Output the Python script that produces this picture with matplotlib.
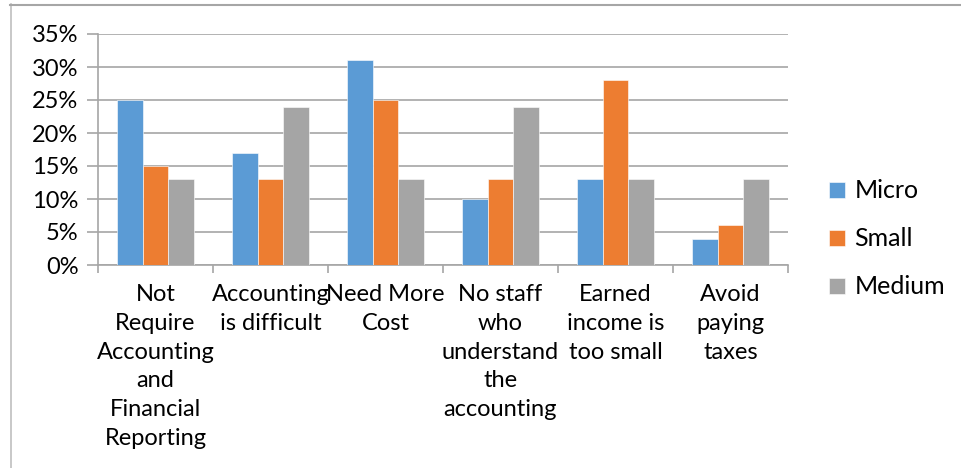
import matplotlib
matplotlib.use("Agg")
import matplotlib.pyplot as plt
import numpy as np
from matplotlib.ticker import FuncFormatter

categories = ["Not\nRequire\nAccounting\nand\nFinancial\nReporting",
              "Accounting\nis difficult",
              "Need More\nCost",
              "No staff\nwho\nunderstand\nthe\naccounting",
              "Earned\nincome is\ntoo small",
              "Avoid\npaying\ntaxes"]
series_names = ["Micro", "Small", "Medium"]
micro = [0.25, 0.17, 0.31, 0.10, 0.13, 0.04]
small = [0.15, 0.13, 0.25, 0.13, 0.28, 0.06]
medium = [0.13, 0.24, 0.13, 0.24, 0.13, 0.13]
yticks = [0, 0.05, 0.10, 0.15, 0.20, 0.25, 0.30, 0.35]

colors = ["#5B9BD5", "#ED7D31", "#A5A5A5"]
grid_c = "#A6A6A6"

plt.rcParams['font.family'] = ['Lato', 'DejaVu Sans']
fig = plt.figure(figsize=(9.61, 4.68), dpi=100)
ax = fig.add_axes([98/961, 1-265/468, 690/961, 231/468])

# figure border (left and top)
fig.add_artist(plt.Line2D([10.5/961, 10.5/961], [0, 1-4/468], transform=fig.transFigure, color="#BFBFBF", lw=1.2))
fig.add_artist(plt.Line2D([10/961, 1], [1-4.5/468, 1-4.5/468], transform=fig.transFigure, color="#A6A6A6", lw=1.5))

n = len(categories)
x = np.arange(n)
w = 0.223
for i, (vals, name) in enumerate(zip([micro, small, medium], series_names)):
    ax.bar(x + (i - 1) * w, vals, width=w, color=colors[i], label=name, zorder=3,
           edgecolor="white", linewidth=0.4)

ax.set_xlim(-0.5, n - 0.5)
ax.set_ylim(0, 0.35)
ax.set_yticks(yticks)
ax.yaxis.set_major_formatter(FuncFormatter(lambda v, p: f"{round(v*100)}%"))
ax.grid(axis='y', color=grid_c, lw=1.2, zorder=0)
ax.set_axisbelow(True)

ax.set_xticks(x)
ax.set_xticklabels(categories, fontsize=17, linespacing=1.45, va='top')
ax.set_xticks(np.arange(n + 1) - 0.5, minor=True)
ax.tick_params(axis='x', which='major', length=0, pad=14)
ax.tick_params(axis='x', which='minor', length=6, color=grid_c, width=1.2)
ax.tick_params(axis='y', length=8, color=grid_c, width=1.2, labelsize=17, pad=6)

for s in ['top', 'right']:
    ax.spines[s].set_visible(False)
for s in ['left', 'bottom']:
    ax.spines[s].set_color(grid_c)
    ax.spines[s].set_linewidth(1.2)

fig.legend(loc='center left', bbox_to_anchor=(829/961, 1-239/468), frameon=False,
           fontsize=18, handlelength=0.62, handleheight=0.62, handletextpad=0.4,
           labelspacing=1.0, borderpad=0, borderaxespad=0)

fig.savefig("out.png", dpi=100)
